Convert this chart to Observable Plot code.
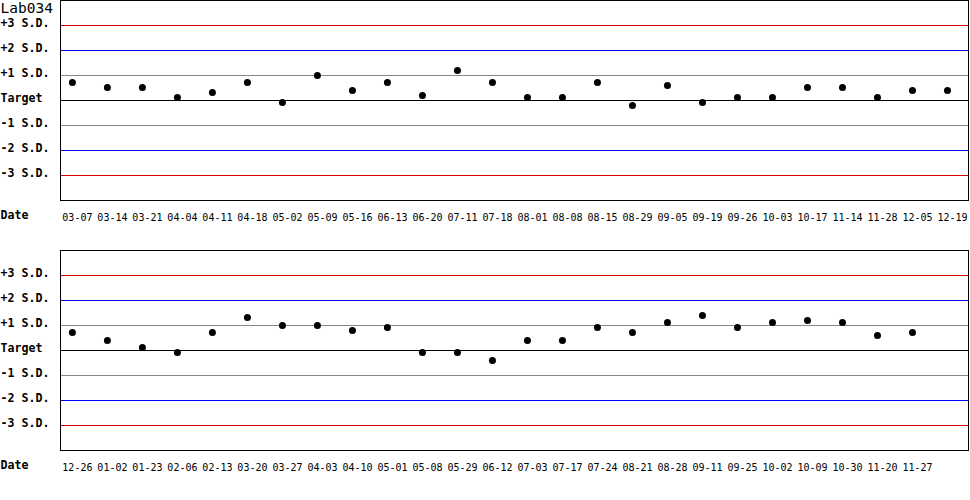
<!DOCTYPE html>
<html>
<head>
<meta charset="utf-8">
<script src="https://cdn.jsdelivr.net/npm/d3@7"></script>
<script src="https://cdn.jsdelivr.net/npm/@observablehq/plot@0.6"></script>
<style>
  body { margin: 0; background: #fff; }
  #chart svg { display: block; }
</style>
</head>
<body>
<div id="chart"></div>
<script>
const title = "Lab034";

const topDates = ["03-07","03-14","03-21","04-04","04-11","04-18","05-02","05-09","05-16","06-13",
  "06-20","07-11","07-18","08-01","08-08","08-15","08-29","09-05","09-19","09-26",
  "10-03","10-17","11-14","11-28","12-05","12-19"];
const topValues = [0.72,0.52,0.52,0.12,0.32,0.72,-0.08,1.0,0.4,0.72,
  0.2,1.2,0.72,0.12,0.12,0.72,-0.2,0.6,-0.08,0.12,
  0.12,0.52,0.52,0.12,0.4,0.4];

const bottomDates = ["12-26","01-02","01-23","02-06","02-13","03-20","03-27","04-03","04-10","05-01",
  "05-08","05-29","06-12","07-03","07-17","07-24","08-21","08-28","09-11","09-25",
  "10-02","10-09","10-30","11-20","11-27"];
const bottomValues = [0.72,0.4,0.12,-0.08,0.72,1.32,1.0,1.0,0.8,0.92,
  -0.08,-0.08,-0.4,0.4,0.4,0.92,0.72,1.12,1.4,0.92,
  1.12,1.2,1.12,0.6,0.72];

const sdLevels = [3, 2, 1, 0, -1, -2, -3];
const sdLabels = ["+3 S.D.", "+2 S.D.", "+1 S.D.", "Target", "-1 S.D.", "-2 S.D.", "-3 S.D."];
const axisLabel = "Date";

const mono = "'DejaVu Sans Mono', 'Liberation Mono', monospace";
const limitStyles = [
  {abs: 3, color: "#dd0000"},
  {abs: 2, color: "#0000ff"},
  {abs: 1, color: "#888888"},
  {abs: 0, color: "#000000"}
];

function panel(dates, values, withTitle) {
  const data = dates.map((d, i) => ({i, d, v: values[i]}));
  const limits = sdLevels.map((l, k) => ({l, label: sdLabels[k]}));
  const marks = [
    ...limitStyles.map(s => Plot.ruleY(limits.filter(d => Math.abs(d.l) === s.abs),
      {y: "l", stroke: s.color, strokeWidth: 1, shapeRendering: "crispEdges"})),
    Plot.frame({stroke: "#000", strokeWidth: 1, shapeRendering: "crispEdges"}),
    Plot.dot(data, {x: "i", y: "v", r: 3.5, fill: "#000", stroke: "none"}),
    Plot.text(limits, {y: "l", text: "label", frameAnchor: "left", dx: -60, dy: -2,
      textAnchor: "start", lineAnchor: "middle", fontWeight: "bold", fontSize: 11.6, fill: "#000"}),
    Plot.text(data, {x: "i", text: "d", frameAnchor: "bottom", dy: 17, dx: 5,
      lineAnchor: "middle", fontSize: 10, fill: "#000"}),
    Plot.text([axisLabel], {text: d => d, frameAnchor: "bottom-left", dx: -60, dy: 14.5,
      textAnchor: "start", lineAnchor: "middle", fontWeight: "bold", fontSize: 11.6, fill: "#000"})
  ];
  if (withTitle) {
    marks.push(Plot.text([title], {text: d => d, frameAnchor: "top-left", dx: -60, dy: 8,
      textAnchor: "start", lineAnchor: "middle", fontSize: 14.5, fill: "#000"}));
  }
  return Plot.plot({
    width: 970,
    height: 250,
    marginTop: 0,
    marginLeft: 60,
    marginRight: 2,
    marginBottom: 50,
    x: {type: "linear", domain: [-0.34, 25.6], axis: null},
    y: {type: "linear", domain: [-4, 4], axis: null},
    style: {fontFamily: mono, background: "#fff", color: "#000", overflow: "visible"},
    marks
  });
}

const root = document.getElementById("chart");
root.appendChild(panel(topDates, topValues, true));
root.appendChild(panel(bottomDates, bottomValues, false));
</script>
</body>
</html>
